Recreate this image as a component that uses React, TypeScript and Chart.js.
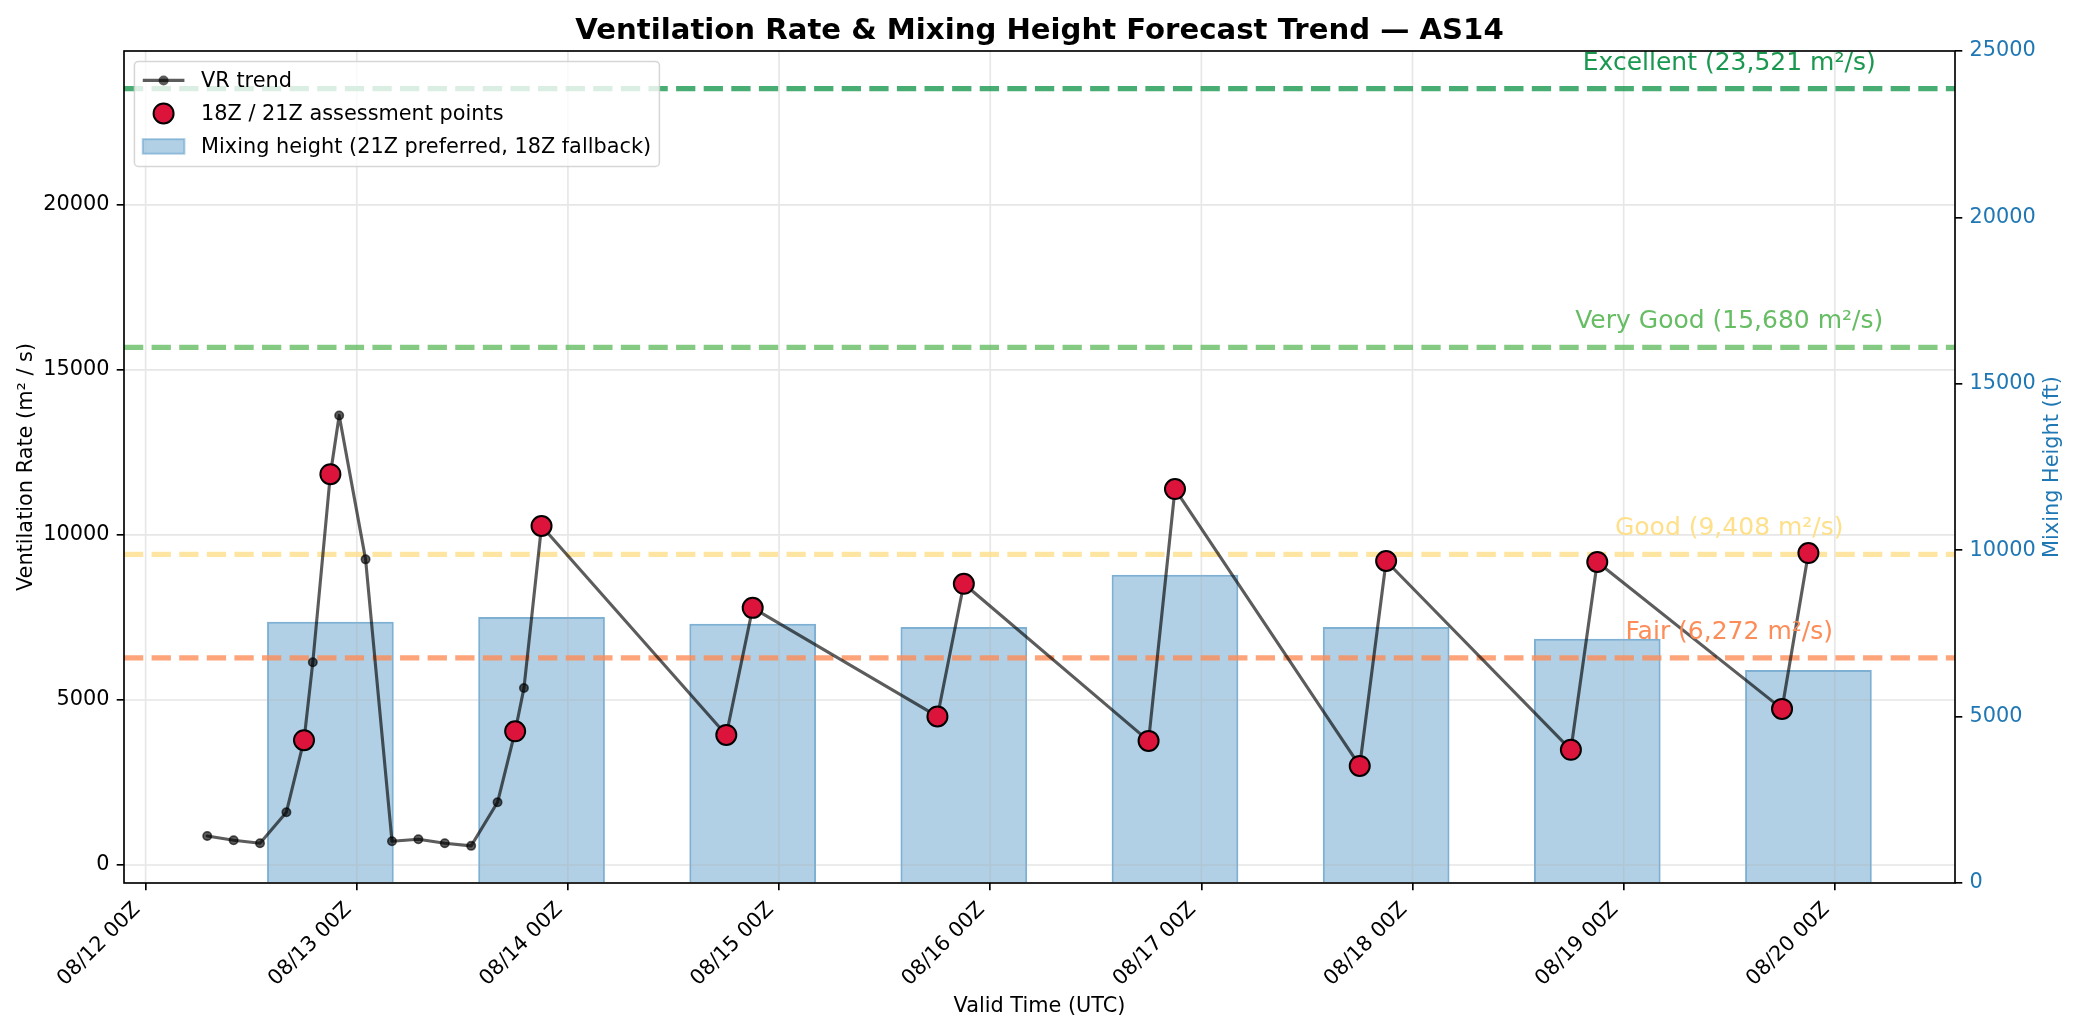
import { useEffect, useRef } from 'react';
import { Chart, registerables } from 'chart.js';

Chart.register(...registerables);

const W = 2079;
const H = 1032;
const FONT = "'DejaVu Sans', Verdana, sans-serif";
const PT = 150 / 72; // px per point (reference drawn at 150 dpi)

// x values are hours since 08/12 00Z
const TICK_HOURS = [0, 24, 48, 72, 96, 120, 144, 168, 192];
const TICK_LABELS = ['08/12 00Z', '08/13 00Z', '08/14 00Z', '08/15 00Z', '08/16 00Z', '08/17 00Z', '08/18 00Z', '08/19 00Z', '08/20 00Z'];
const VR_TICKS = [0, 5000, 10000, 15000, 20000];
const MH_TICKS = [0, 5000, 10000, 15000, 20000, 25000];

const VR_HOURS = [7, 10, 13, 16, 18, 19, 21, 22, 25, 28, 31, 34, 37, 40, 42, 43, 45, 66, 69, 90, 93, 114, 117, 138, 141, 162, 165, 186, 189];
const VR_VALUES = [880, 750, 660, 1600, 3780, 6140, 11840, 13620, 9260, 720, 780, 660, 580, 1900, 4050, 5360, 10270, 3940, 7790, 4500, 8520, 3760, 11390, 3000, 9210, 3490, 9180, 4730, 9450];

const ASSESS_HOURS = [18, 21, 42, 45, 66, 69, 90, 93, 114, 117, 138, 141, 162, 165, 186, 189];
const ASSESS_VALUES = [3780, 11840, 4050, 10270, 3940, 7790, 4500, 8520, 3760, 11390, 3000, 9210, 3490, 9180, 4730, 9450];

const MIX_HOURS = [21, 45, 69, 93, 117, 141, 165, 189];
const MIX_FT = [7850, 7990, 7790, 7690, 9260, 7690, 7340, 6400];

const LEVEL_NAMES = ['Excellent', 'Very Good', 'Good', 'Fair'];
const LEVEL_VALUES = [23521, 15680, 9408, 6272];
const LEVEL_COLORS = ['#1a9850', '#66bd63', '#fee08b', '#fc8d59'];
const LEVEL_LABEL_HOUR = 180;

const BLUE = '#1f77b4';
const VR_COLOR = 'rgba(0,0,0,0.64)';
const RED = '#dc143c';

const hexA = (hex: string, a: number) => {
  const n = parseInt(hex.slice(1), 16);
  return `rgba(${(n >> 16) & 255},${(n >> 8) & 255},${n & 255},${a})`;
};

const overlay = {
  id: 'overlay',
  afterDatasetDraw(chart: any, args: any) {
    if (args.index !== 0) return; // right after the bars
    const { ctx, chartArea: a, scales } = chart;
    ctx.save();
    ctx.strokeStyle = 'rgba(176,176,176,0.3)';
    ctx.lineWidth = 0.8 * PT;
    ctx.beginPath();
    TICK_HOURS.forEach((h) => {
      const x = scales.x.getPixelForValue(h);
      ctx.moveTo(x, a.top);
      ctx.lineTo(x, a.bottom);
    });
    VR_TICKS.forEach((v) => {
      const y = scales.y.getPixelForValue(v);
      ctx.moveTo(a.left, y);
      ctx.lineTo(a.right, y);
    });
    ctx.stroke();

    ctx.lineWidth = 2.5 * PT;
    ctx.setLineDash([3.7 * 2.5 * PT, 1.6 * 2.5 * PT]);
    LEVEL_VALUES.forEach((v, i) => {
      const y = scales.y.getPixelForValue(v);
      ctx.strokeStyle = hexA(LEVEL_COLORS[i], 0.8);
      ctx.beginPath();
      ctx.moveTo(a.left, y);
      ctx.lineTo(a.right, y);
      ctx.stroke();
    });
    ctx.restore();
  },
  afterDatasetsDraw(chart: any) {
    const { ctx, chartArea: a, scales } = chart;
    ctx.save();
    // tier labels
    ctx.font = `${12 * PT}px ${FONT}`;
    ctx.textAlign = 'center';
    ctx.textBaseline = 'alphabetic';
    const lx = scales.x.getPixelForValue(LEVEL_LABEL_HOUR);
    LEVEL_VALUES.forEach((v, i) => {
      ctx.fillStyle = LEVEL_COLORS[i];
      ctx.fillText(`${LEVEL_NAMES[i]} (${v.toLocaleString('en-US')} m²/s)`, lx, scales.y.getPixelForValue(v) - 19);
    });
    // spines
    ctx.strokeStyle = '#000';
    ctx.lineWidth = 0.8 * PT;
    ctx.strokeRect(a.left, a.top, a.right - a.left, a.bottom - a.top);
    ctx.restore();
  },
  afterDraw(chart: any) {
    const { ctx, chartArea: a } = chart;
    const cx = (a.left + a.right) / 2;
    const cy = (a.top + a.bottom) / 2;
    const fs = 10 * PT;
    ctx.save();
    // title
    ctx.fillStyle = '#000';
    ctx.font = `bold ${14 * PT}px ${FONT}`;
    ctx.textAlign = 'center';
    ctx.textBaseline = 'alphabetic';
    ctx.fillText('Ventilation Rate & Mixing Height Forecast Trend — AS14', cx, 39);
    // axis titles
    ctx.font = `${fs}px ${FONT}`;
    ctx.fillText('Valid Time (UTC)', cx, 1012);
    ctx.save();
    ctx.translate(32, cy);
    ctx.rotate(-Math.PI / 2);
    ctx.fillText('Ventilation Rate (m² / s)', 0, 0);
    ctx.restore();
    ctx.save();
    ctx.translate(2058, cy);
    ctx.rotate(-Math.PI / 2);
    ctx.fillStyle = BLUE;
    ctx.fillText('Mixing Height (ft)', 0, 0);
    ctx.restore();

    // legend
    const labels = ['VR trend', '18Z / 21Z assessment points', 'Mixing height (21Z preferred, 18Z fallback)'];
    const x0 = a.left + 0.5 * fs;
    const y0 = a.top + 0.5 * fs;
    const hx0 = x0 + 0.4 * fs;
    const hx1 = hx0 + 2 * fs;
    const hcx = (hx0 + hx1) / 2;
    const tx = hx1 + 0.8 * fs;
    const rows = [y0 + 19, y0 + 52, y0 + 85];
    ctx.textAlign = 'left';
    ctx.textBaseline = 'middle';
    const wMax = Math.max(...labels.map((l) => ctx.measureText(l).width));
    const x1 = tx + wMax + 0.4 * fs;
    const y1 = y0 + 105;
    ctx.beginPath();
    ctx.roundRect(x0, y0, x1 - x0, y1 - y0, 4);
    ctx.fillStyle = 'rgba(255,255,255,0.8)';
    ctx.fill();
    ctx.strokeStyle = 'rgba(204,204,204,0.8)';
    ctx.lineWidth = 1.5;
    ctx.stroke();

    ctx.strokeStyle = VR_COLOR;
    ctx.lineWidth = 1.5 * PT;
    ctx.beginPath();
    ctx.moveTo(hx0, rows[0]);
    ctx.lineTo(hx1, rows[0]);
    ctx.stroke();
    ctx.fillStyle = VR_COLOR;
    ctx.beginPath();
    ctx.arc(hcx, rows[0], 5, 0, Math.PI * 2);
    ctx.fill();

    ctx.beginPath();
    ctx.arc(hcx, rows[1], 10, 0, Math.PI * 2);
    ctx.fillStyle = RED;
    ctx.fill();
    ctx.strokeStyle = '#000';
    ctx.lineWidth = 2;
    ctx.stroke();

    const rh = 0.7 * fs;
    ctx.fillStyle = hexA(BLUE, 0.35);
    ctx.fillRect(hx0, rows[2] - rh / 2, hx1 - hx0, rh);
    ctx.strokeStyle = hexA(BLUE, 0.35);
    ctx.lineWidth = 2;
    ctx.strokeRect(hx0, rows[2] - rh / 2, hx1 - hx0, rh);

    ctx.fillStyle = '#000';
    labels.forEach((l, i) => ctx.fillText(l, tx, rows[i] + 1));
    ctx.restore();
  },
};

export default function App() {
  const canvasRef = useRef<HTMLCanvasElement>(null);

  useEffect(() => {
    document.body.style.margin = '0';
    if (!canvasRef.current) return;
    const tickFont = { family: FONT, size: 10 * PT };
    const gridBase = {
      drawOnChartArea: false,
      drawTicks: true,
      tickLength: 3.5 * PT,
      tickColor: '#000',
      tickWidth: 0.8 * PT,
      lineWidth: 0.8 * PT,
      offset: false,
    };
    const chart = new Chart(canvasRef.current, {
      type: 'line',
      data: {
        datasets: [
          {
            type: 'bar',
            label: 'Mixing height (21Z preferred, 18Z fallback)',
            data: MIX_HOURS.map((h, i) => ({ x: h, y: MIX_FT[i] })),
            yAxisID: 'y2',
            backgroundColor: hexA(BLUE, 0.35),
            borderColor: hexA(BLUE, 0.58),
            borderWidth: 2,
            barPercentage: 0.6,
            categoryPercentage: 1,
            order: 3,
          },
          {
            type: 'line',
            label: 'VR trend',
            data: VR_HOURS.map((h, i) => ({ x: h, y: VR_VALUES[i] })),
            yAxisID: 'y',
            borderColor: VR_COLOR,
            borderWidth: 1.5 * PT,
            borderJoinStyle: 'round',
            borderCapStyle: 'round',
            pointRadius: 4.2,
            pointBackgroundColor: VR_COLOR,
            pointBorderColor: VR_COLOR,
            pointBorderWidth: 1.6,
            tension: 0,
            fill: false,
            order: 2,
          },
          {
            type: 'line',
            label: '18Z / 21Z assessment points',
            data: ASSESS_HOURS.map((h, i) => ({ x: h, y: ASSESS_VALUES[i] })),
            yAxisID: 'y',
            showLine: false,
            pointRadius: 10,
            pointBackgroundColor: RED,
            pointBorderColor: '#000',
            pointBorderWidth: 2,
            order: 1,
          },
        ],
      } as any,
      options: {
        responsive: false,
        devicePixelRatio: 1,
        animation: false,
        layout: { padding: { top: 51, left: 0, right: 0, bottom: 0 } },
        plugins: { legend: { display: false }, title: { display: false }, tooltip: { enabled: false } },
        scales: {
          x: {
            type: 'linear',
            min: -2.46,
            max: 205.66,
            offset: false,
            grid: gridBase,
            border: { display: false },
            afterBuildTicks: (s: any) => { s.ticks = TICK_HOURS.map((v) => ({ value: v })); },
            afterFit: (s: any) => { s.height = H - 883; },
            ticks: {
              autoSkip: false,
              minRotation: 45,
              maxRotation: 45,
              padding: 3.5 * PT,
              labelOffset: -8.6,
              color: '#000',
              font: tickFont,
              callback: (_v: any, i: number) => TICK_LABELS[i],
            },
          },
          y: {
            type: 'linear',
            position: 'left',
            min: -545,
            max: 24660,
            grid: gridBase,
            border: { display: false },
            afterBuildTicks: (s: any) => { s.ticks = VR_TICKS.map((v) => ({ value: v })); },
            afterFit: (s: any) => { s.width = 124; },
            ticks: { padding: 3.5 * PT, color: '#000', font: tickFont, callback: (v: any) => String(v) },
          },
          y2: {
            type: 'linear',
            position: 'right',
            min: 0,
            max: 25000,
            grid: gridBase,
            border: { display: false },
            afterBuildTicks: (s: any) => { s.ticks = MH_TICKS.map((v) => ({ value: v })); },
            afterFit: (s: any) => { s.width = W - 1955; },
            ticks: { padding: 3.5 * PT, color: BLUE, font: tickFont, callback: (v: any) => String(v) },
          },
        },
      } as any,
      plugins: [overlay],
    });
    return () => { chart.destroy(); };
  }, []);

  return (
    <div style={{ width: W, height: H, background: '#fff', overflow: 'hidden' }}>
      <canvas ref={canvasRef} width={W} height={H} style={{ display: 'block', width: W, height: H }} />
    </div>
  );
}
